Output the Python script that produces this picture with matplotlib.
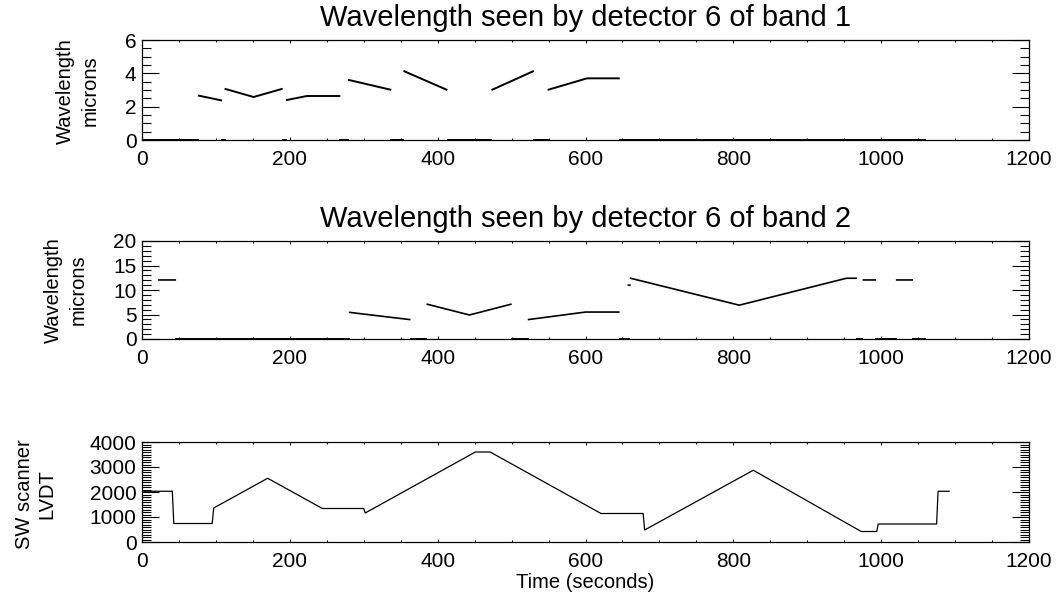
import matplotlib
matplotlib.use("Agg")
import matplotlib.pyplot as plt
import numpy as np
from matplotlib.ticker import MultipleLocator

nan = np.nan

# band 1, detector 6 (segments separated by nan)
b1_t = [77, 107, nan, 113, 151, 189, nan, 196, 223, 267, nan, 280, 336, nan,
        355, 412, nan, 474, 529, nan, 550, 602, 645]
b1_v = [2.66, 2.38, nan, 3.06, 2.58, 3.06, nan, 2.4, 2.64, 2.64, nan, 3.6, 3.02, nan,
        4.12, 3.02, nan, 3.02, 4.12, nan, 3.02, 3.7, 3.7]
# times where the detector sees nothing (wavelength = 0)
b1_off_start = [0, 107, 189, 267, 336, 412, 529, 645]
b1_off_end = [77, 113, 196, 280, 355, 474, 550, 1060]

# band 2, detector 6
b2_t = [23, 45, nan, 281, 362, nan, 386, 443, 499, nan, 523, 600, 645, nan,
        658, 660, nan, 661, 808, 953, 966, nan, 976, 992, nan, 1021, 1042]
b2_v = [12.05, 12.05, nan, 5.43, 3.97, nan, 7.09, 4.9, 7.09, nan, 3.97, 5.5, 5.5, nan,
        11.0, 11.0, nan, 12.4, 6.9, 12.4, 12.4, nan, 12.05, 12.05, nan, 12.05, 12.05]
b2_off_start = [45, 362, 499, 645, 966, 992, 1042]
b2_off_end = [281, 386, 523, 660, 976, 1021, 1060]

# SW scanner LVDT
lvdt_t = [0, 41, 43, 95, 97, 170, 244, 300, 302, 451, 471, 621, 678, 680,
          827, 973, 994, 996, 1075, 1077, 1092]
lvdt_v = [2030, 2030, 740, 740, 1360, 2550, 1340, 1340, 1160, 3600, 3600, 1140, 1140, 480,
          2870, 420, 420, 720, 720, 2030, 2030]

plt.rcParams['font.family'] = ['Liberation Sans', 'DejaVu Sans']

W, H = 1062, 598
fig = plt.figure(figsize=(W / 100, H / 100), dpi=100)

def box(left, top, right, bottom):
    return [left / W, 1 - bottom / H, (right - left) / W, (bottom - top) / H]

ax1 = fig.add_axes(box(142, 40, 1029, 140))
ax2 = fig.add_axes(box(142, 241, 1029, 339))
ax3 = fig.add_axes(box(142, 442, 1029, 542))

def style(ax, ymax, ymaj, ymin):
    ax.set_xlim(0, 1200)
    ax.set_ylim(0, ymax)
    ax.xaxis.set_major_locator(MultipleLocator(200))
    ax.xaxis.set_minor_locator(MultipleLocator(50))
    ax.yaxis.set_major_locator(MultipleLocator(ymaj))
    ax.yaxis.set_minor_locator(MultipleLocator(ymin))
    ax.tick_params(axis='both', which='both', direction='in', top=True, right=True,
                   width=0.8, color='black')
    ax.tick_params(axis='x', which='major', length=2.2, pad=7.5, labelsize=15)
    ax.tick_params(axis='x', which='minor', length=1.4)
    ax.tick_params(axis='y', which='major', length=12.5, pad=4, labelsize=15)
    ax.tick_params(axis='y', which='minor', length=6.3)
    for s in ax.spines.values():
        s.set_linewidth(0.9)

style(ax1, 6, 2, 0.5)
ax1.plot(b1_t, b1_v, color='black', lw=1.4)
ax1.hlines(np.zeros(len(b1_off_start)), b1_off_start, b1_off_end, color='black', lw=1.4)
ax1.set_title("Wavelength seen by detector 6 of band 1", fontsize=21, pad=10)

style(ax2, 20, 5, 1)
ax2.plot(b2_t, b2_v, color='black', lw=1.2)
ax2.hlines(np.zeros(len(b2_off_start)), b2_off_start, b2_off_end, color='black', lw=1.4)
ax2.set_title("Wavelength seen by detector 6 of band 2", fontsize=21, pad=10)

style(ax3, 4000, 1000, 100)
ax3.plot(lvdt_t, lvdt_v, color='black', lw=0.9)
ax3.set_xlabel("Time (seconds)", fontsize=14.5, labelpad=1)

fig.text(78 / W, 1 - 91 / H, "Wavelength\nmicrons", rotation=90, fontsize=14.5,
         ha='center', va='center', multialignment='center', linespacing=1.4)
fig.text(66 / W, 1 - 290 / H, "Wavelength\nmicrons", rotation=90, fontsize=14.5,
         ha='center', va='center', multialignment='center', linespacing=1.4)
fig.text(36 / W, 1 - 494 / H, "SW scanner\nLVDT", rotation=90, fontsize=14.5,
         ha='center', va='center', multialignment='center', linespacing=1.25)

fig.savefig("out.png", dpi=100)
